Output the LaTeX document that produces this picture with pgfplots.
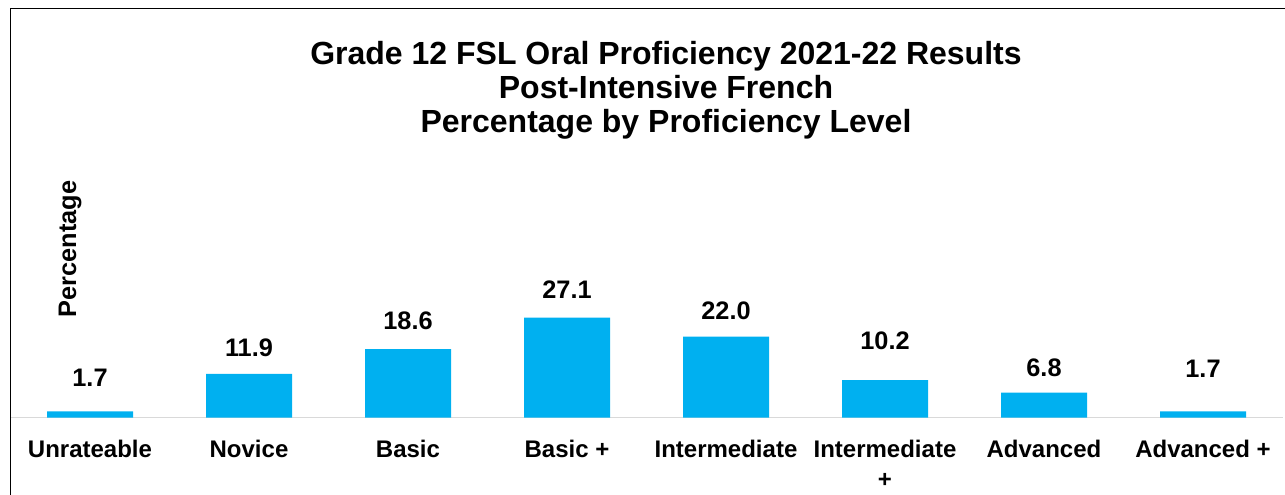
\documentclass[border=0pt]{standalone}
\usepackage{pgfplots}
\pgfplotsset{compat=1.18}
\usepackage{fontspec}
\setmainfont{Liberation Sans}
\definecolor{barcyan}{HTML}{00B0F0}
\definecolor{basegrey}{HTML}{D9D9D9}
\begin{document}
\begin{tikzpicture}
\begin{axis}[
  at={(7.875pt,57.225pt)}, anchor=south west,
  scale only axis, width=954pt, height=166.05pt,
  xmin=-0.5, xmax=7.5, ymin=0, ymax=60,
  axis x line*=bottom, hide y axis,
  x axis line style={draw=basegrey, line width=1pt, -},
  xtick={0,...,7}, major tick length=0pt,
  xticklabels={Unrateable, Novice, Basic, Basic +, Intermediate, {Intermediate\\+}, Advanced, Advanced +},
  xticklabel style={align=center, anchor=north, inner sep=0pt, yshift=-16.7pt,
    font=\fontsize{18}{22.5}\selectfont\bfseries},
  clip=false,
]
\addplot[ybar, bar width=64.5pt, bar shift=0pt, fill=barcyan, draw=none]
  coordinates {(0,1.7) (1,11.9) (2,18.6) (3,27.1) (4,22.0) (5,10.2) (6,6.8) (7,1.7)};
\addplot[draw=none, mark=none, nodes near coords, point meta=explicit symbolic,
  every node near coord/.style={anchor=base, inner sep=0pt, font=\fontsize{19}{22}\selectfont\bfseries}]
  coordinates {(0,8.40)[1.7] (1,16.53)[11.9] (2,23.77)[18.6] (3,32.36)[27.1]
               (4,26.48)[22.0] (5,18.54)[10.2] (6,11.30)[6.8] (7,10.95)[1.7]};
\end{axis}
\draw[line width=0.9pt, black] (7.7pt,-5pt) -- (7.7pt,364.3pt) -- (970pt,364.3pt);
\node[anchor=base, inner sep=0pt, font=\fontsize{24}{26}\selectfont\bfseries] at (499.5pt,322.3pt) {Grade 12 FSL Oral Proficiency 2021-22 Results};
\node[anchor=base, inner sep=0pt, font=\fontsize{24}{26}\selectfont\bfseries] at (499.5pt,296.8pt) {Post-Intensive French};
\node[anchor=base, inner sep=0pt, font=\fontsize{24}{26}\selectfont\bfseries] at (499.5pt,271.3pt) {Percentage by Proficiency Level};
\node[rotate=90, anchor=base, inner sep=0pt, font=\fontsize{19}{22}\selectfont\bfseries] at (57pt,183.75pt) {Percentage};
\pgfresetboundingbox
\path[use as bounding box] (0pt,0pt) rectangle (963.75pt,370.5pt);
\end{tikzpicture}
\end{document}
